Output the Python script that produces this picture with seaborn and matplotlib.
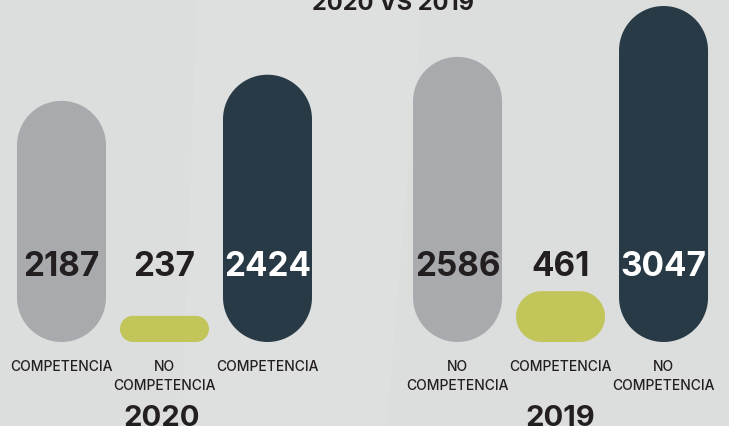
import matplotlib
matplotlib.use("Agg")
import matplotlib.pyplot as plt
import matplotlib.transforms as mtransforms
from matplotlib.patches import Polygon
import numpy as np
import pandas as pd
import seaborn as sns

# data
years = ["2020", "2019"]
categories = ["COMPETENCIA", "NO\nCOMPETENCIA", "COMPETENCIA",
              "NO\nCOMPETENCIA", "COMPETENCIA", "NO\nCOMPETENCIA"]
series = ["a", "b", "total", "a", "b", "total"]
values = [2187, 237, 2424, 2586, 461, 3047]
title = "2020 VS 2019"

palette = {"a": "#a9aaad", "b": "#c2c55a", "total": "#283a45"}
label_colors = {"a": "#231f20", "b": "#231f20", "total": "#ffffff"}
bg = "#dcdedd"

W, H = 729, 426
group_gap = 1.845  # spacing between the two year groups, in bar steps
pos = [i % 3 + (i // 3) * (2 + group_gap) for i in range(len(values))]

df = pd.DataFrame({"x": pos, "value": values, "series": series, "cat": categories})

sns.set_theme(style="white")
plt.rcParams["font.family"] = ["Inter", "DejaVu Sans"]

fig = plt.figure(figsize=(W / 100, H / 100), dpi=100, facecolor=bg)
ax = fig.add_axes([0, 0, 1, 1])
ax.set_facecolor(bg)

sns.barplot(data=df, x="x", y="value", hue="series", palette=palette,
            saturation=1, native_scale=True, dodge=False, width=0.864,
            legend=False, ax=ax)

# pixel mapping: bar step = 103 px, baseline at y=342 px
px_x = 103.0
x0 = -61.5 / px_x
ax.set_xlim(x0, x0 + W / px_x)
px_y = 336 / max(values)
ax.set_ylim(-(H - 342) / px_y, 342 / px_y)
ax.axis("off")

bars = list(ax.patches)

# faint light band in the background
band = Polygon([(0.27, 1), (0.58, 1), (0.53, 0), (0.25, 0)], closed=True,
               transform=ax.transAxes, facecolor="white", alpha=0.07,
               edgecolor="none", zorder=0)
ax.add_patch(band)


def pill(bx, bw, bh):
    """Outline of a bar with fully rounded ends (true arcs in pixel space)."""
    r_px = min(bw * px_x, bh * px_y) / 2
    rx, ry = r_px / px_x, r_px / px_y
    centers = [(bx + bw - rx, bh - ry, 0), (bx + rx, bh - ry, 90),
               (bx + rx, ry, 180), (bx + bw - rx, ry, 270)]
    pts = []
    for cx, cy, a0 in centers:
        t = np.radians(np.linspace(a0, a0 + 90, 24))
        pts.extend(zip(cx + rx * np.cos(t), cy + ry * np.sin(t)))
    return pts


for p in bars:
    bx, bw, bh = p.get_x(), p.get_width(), p.get_height()
    fc = p.get_facecolor()
    p.remove()
    if bh <= 0:
        continue
    ax.add_patch(Polygon(pill(bx, bw, bh), closed=True, facecolor=fc,
                         edgecolor="none", zorder=2))

trans = mtransforms.blended_transform_factory(ax.transData, ax.transAxes)
for x, v, s, c in zip(pos, values, series, categories):
    ax.text(x, 1 - 267 / H, str(v), transform=trans, ha="center", va="center",
            fontsize=24, fontweight="bold", color=label_colors[s], zorder=3)
    ax.text(x, 1 - 360 / H, c, transform=trans, ha="center", va="top",
            fontsize=10, fontweight=500, color="#231f20", linespacing=1.45)

for g, yr in enumerate(years):
    ax.text(pos[g * 3 + 1] - 0.03 * (1 - g), 1 - 418 / H, yr, transform=trans,
            ha="center", va="center", fontsize=21, fontweight="bold",
            color="#231f20")

ax.text(393 / W, 1 - 10 / H, title, transform=ax.transAxes, ha="center",
        va="baseline", fontsize=17, fontweight="bold", color="#231f20")

fig.savefig("out.png", dpi=100, facecolor=bg)
